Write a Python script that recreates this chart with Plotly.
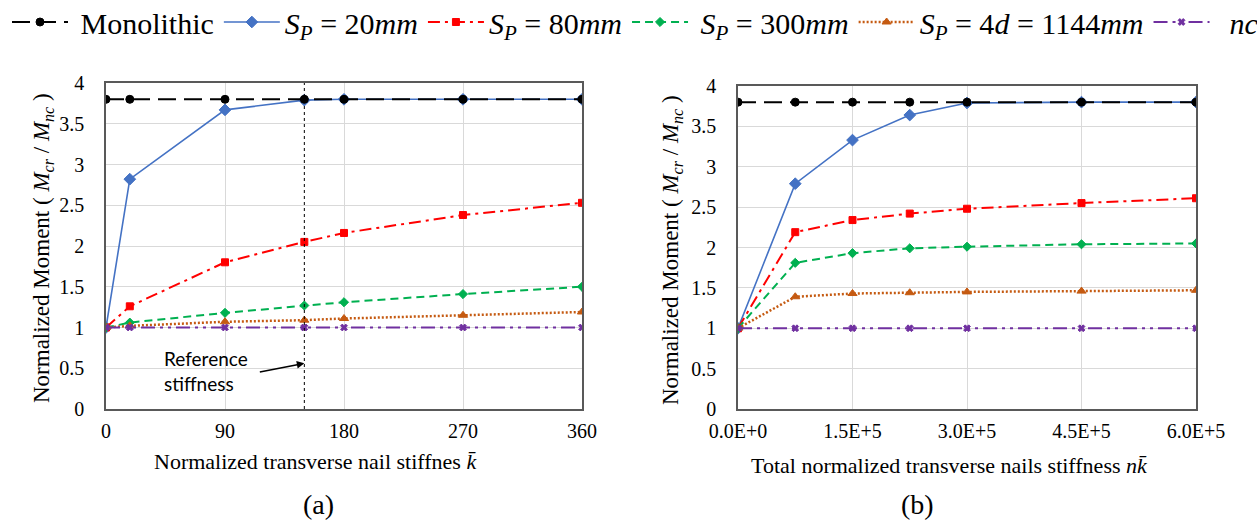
import plotly.graph_objects as go

# ---- data -----------------------------------------------------------------
# (a) single-nail normalized stiffness k̄
k_bar = [0, 18, 90, 150, 180, 270, 360]
a_monolithic = [3.8, 3.8, 3.8, 3.8, 3.8, 3.8, 3.8]
a_sp20 = [1.0, 2.82, 3.67, 3.79, 3.8, 3.8, 3.8]
a_sp80 = [1.0, 1.26, 1.80, 2.05, 2.16, 2.38, 2.53]
a_sp300 = [1.0, 1.06, 1.18, 1.27, 1.31, 1.41, 1.50]
a_sp1144 = [1.0, 1.02, 1.07, 1.09, 1.11, 1.15, 1.19]
a_nc = [1.0, 1.0, 1.0, 1.0, 1.0, 1.0, 1.0]

# (b) total normalized stiffness n·k̄
nk_bar = [0, 75000, 150000, 225000, 300000, 450000, 600000]
b_monolithic = [3.8, 3.8, 3.8, 3.8, 3.8, 3.8, 3.8]
b_sp20 = [1.0, 2.79, 3.33, 3.64, 3.79, 3.8, 3.8]
b_sp80 = [1.0, 2.19, 2.34, 2.42, 2.48, 2.55, 2.61]
b_sp300 = [1.0, 1.81, 1.93, 1.99, 2.01, 2.04, 2.05]
b_sp1144 = [1.0, 1.39, 1.43, 1.44, 1.45, 1.46, 1.47]
b_nc = [1.0, 1.0, 1.0, 1.0, 1.0, 1.0, 1.0]

REF_STIFFNESS = 150
b_tickvals = [0, 150000, 300000, 450000, 600000]
b_ticktext = ["0.0E+0", "1.5E+5", "3.0E+5", "4.5E+5", "6.0E+5"]

SERIF = "Liberation Serif"
NB = "\u00a0"

# ---- series styles ----------------------------------------------------------
series = [
    dict(name="<i>S</i><sub><i>P</i></sub> = 20<i>mm</i>", a=a_sp20, b=b_sp20,
         color="#4472C4", dash="solid", width=1.6, symbol="diamond", size=9, rank=2),
    dict(name="<i>S</i><sub><i>P</i></sub> = 80<i>mm</i>", a=a_sp80, b=b_sp80,
         color="#FF0000", dash="12px,5px,3px,5px", width=2, symbol="square", size=7, rank=3),
    dict(name=NB + "<i>S</i><sub><i>P</i></sub> = 300<i>mm</i>", a=a_sp300, b=b_sp300,
         color="#00B050", dash="8px,5px", width=2, symbol="diamond", size=7, rank=4),
    dict(name="<i>S</i><sub><i>P</i></sub> = 4<i>d</i> = 1144<i>mm</i>", a=a_sp1144, b=b_sp1144,
         color="#C55A11", dash="2px,2px", width=2.5, symbol="triangle-up", size=8, rank=5),
    dict(name=NB + NB + "<i>nc</i>", a=a_nc, b=b_nc,
         color="#7030A0", dash="14px,5px,3px,5px,3px,5px", width=2, symbol="x", size=6, rank=6),
    dict(name=NB + "Monolithic", a=a_monolithic, b=b_monolithic,
         color="#000000", dash="18px,8px", width=2, symbol="circle", size=8, rank=1),
]

fig = go.Figure()
for s in series:
    for panel, xs, ys in (("a", k_bar, s["a"]), ("b", nk_bar, s["b"])):
        fig.add_trace(go.Scatter(
            x=xs, y=ys, name=s["name"], mode="lines+markers",
            line=dict(color=s["color"], dash=s["dash"], width=s["width"]),
            marker=dict(symbol=s["symbol"], size=s["size"], color=s["color"],
                        line=dict(color=s["color"], width=1)),
            xaxis="x" if panel == "a" else "x2",
            yaxis="y" if panel == "a" else "y2",
            showlegend=(panel == "a"), legendrank=s["rank"],
        ))

W, H = 1257, 522
axis_common = dict(
    showline=True, mirror=True, linecolor="#595959", linewidth=1.5,
    showgrid=True, gridcolor="#D9D9D9", gridwidth=1, zeroline=False,
    ticks="", automargin=False,
    tickfont=dict(family=SERIF, size=20, color="#000000"),
)

fig.update_layout(
    width=W, height=H,
    margin=dict(l=0, r=0, t=0, b=0, autoexpand=False),
    paper_bgcolor="white", plot_bgcolor="white",
    font=dict(family=SERIF, color="#000000"),
    showlegend=True,
    legend=dict(orientation="h", x=7 / W, xanchor="left", y=1 + 4 / H, yanchor="top",
                font=dict(family=SERIF, size=30, color="#000000"),
                itemwidth=56, tracegroupgap=0, bgcolor="rgba(0,0,0,0)"),
    xaxis=dict(domain=[106 / W, 582 / W], range=[0, 360], dtick=90,
               ticklabelstandoff=3, anchor="y", **axis_common),
    yaxis=dict(domain=[113 / H, 439 / H], range=[0, 4], dtick=0.5,
               ticklabelstandoff=16, anchor="x", **axis_common),
    xaxis2=dict(domain=[738 / W, 1196 / W], range=[0, 600000],
                tickvals=b_tickvals, ticktext=b_ticktext,
                ticklabelstandoff=3, anchor="y2", **axis_common),
    yaxis2=dict(domain=[113 / H, 436 / H], range=[0, 4], dtick=0.5,
                ticklabelstandoff=16, anchor="x2", **axis_common),
)

# reference stiffness marker in panel (a)
fig.add_shape(type="line", xref="x", yref="y", x0=REF_STIFFNESS, x1=REF_STIFFNESS,
              y0=0, y1=4, line=dict(color="#000000", width=1, dash="dot"), layer="above")
fig.add_annotation(xref="x", yref="y", x=REF_STIFFNESS, y=0.56, ax=-46, ay=9,
                   text="", showarrow=True, arrowhead=2, arrowsize=1, arrowwidth=1.5,
                   arrowcolor="#000000")
fig.add_annotation(xref="x", yref="y", x=76, y=0.47, showarrow=False,
                   text="Reference<br>stiffness", align="left",
                   xanchor="center", yanchor="middle",
                   font=dict(family="Lato", size=19, color="#000000"))


def paper_text(xpix, ypix, text, size, angle=0):
    """Place a text label centred on a pixel position of the figure."""
    fig.add_annotation(xref="paper", yref="paper", x=xpix / W, y=1 - ypix / H,
                       xanchor="center", yanchor="middle", text=text,
                       textangle=angle, showarrow=False,
                       font=dict(family=SERIF, size=size, color="#000000"))


ytitle = "Normalized Moment ( <i>M</i><sub><i>cr</i></sub> / <i>M</i><sub><i>nc</i></sub> )"
paper_text(43, 248, ytitle, 23, angle=-90)
paper_text(672, 250, ytitle, 23, angle=-90)
paper_text(315, 461, "Normalized transverse nail stiffnes <i>k̄</i>", 22)
paper_text(949, 465, "Total normalized transverse nails stiffness <i>nk̄</i>", 22)
paper_text(318, 504, "(a)", 28)
paper_text(918, 504, "(b)", 28)

fig.write_html("out.html")
